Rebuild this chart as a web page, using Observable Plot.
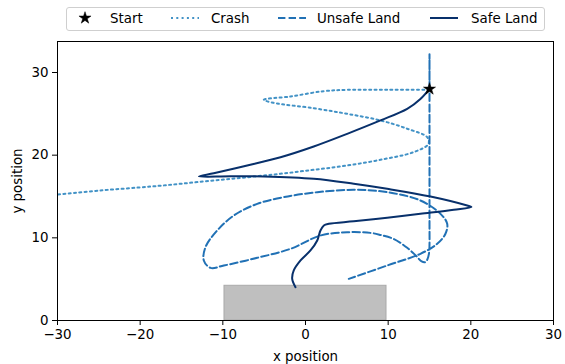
<!DOCTYPE html>
<html>
<head>
<meta charset="utf-8">
<script src="https://cdn.jsdelivr.net/npm/d3@7"></script>
<script src="https://cdn.jsdelivr.net/npm/@observablehq/plot@0.6"></script>
<style>
  body { margin: 0; background: #fff; font-family: "DejaVu Sans", sans-serif; }
  #wrap { width: 565px; }
  #legend { position: relative; height: 34px; }
  #legend .box { position: absolute; left: 66px; top: 7px; width: 477px; height: 22px;
    border: 1px solid #cfcfcf; border-radius: 3px; background: #fff; }
  #legend .item { position: absolute; top: 7px; height: 24px; line-height: 23px; font-size: 13.4px; color: #000; }
  #legend svg { position: absolute; top: 0; }
</style>
</head>
<body>
<div id="wrap">
  <div id="legend"></div>
  <div id="chart"></div>
</div>
<script>
// ---- data ----
const start = [{x: 15, y: 28}];
const padX = [-9.8, 9.8];
const padY = [0, 4.2];

const crashX = [15, 10, 5.04, 2.18, -1.81, -5.04, -3.87, 0.97, 5.04, 9.07, 12.3, 14.72, 14.88, 13.06, 9.07, 5.04, 0.97, -3.02, -7.05, -11.13, -15.12, -18.75, -24.8, -30];
const crashY = [27.9, 27.9, 27.9, 27.74, 27.1, 26.7, 26.33, 25.68, 25.0, 24.2, 23.2, 22.17, 21.37, 20.36, 19.44, 18.75, 18.23, 17.75, 17.33, 16.94, 16.54, 16.2, 15.73, 15.24];

const unsafeX = [15, 15, 15, 15, 15, 15, 14.95, 14.75, 14.45, 14.05, 13.3, 12.3, 10.7, 9.07, 7.86, 5.04, 1.81, -1.81, -5.84, -9.88, -11.49, -12.3, -12.1, -10.68, -8.67, -5.84, -2.62, 1.42, 5.84, 9.88, 13.9, 16.33, 17.14, 16.93, 15.93, 13.9, 9.88, 5.24];
const unsafeY = [28, 32.2, 28, 20, 12, 9.2, 8.2, 7.4, 7.05, 7.15, 7.9, 8.8, 9.85, 10.35, 10.6, 10.68, 10.28, 8.67, 7.58, 6.65, 6.37, 7.26, 8.87, 10.89, 12.7, 14.11, 14.92, 15.52, 15.81, 15.52, 14.52, 12.9, 11.7, 10.49, 9.28, 8.07, 6.65, 5.04];

const safeX = [15, 13.9, 12.3, 9.07, 5.04, 1.0, -3.02, -7.05, -11.1, -12.9, -9.07, -5.04, 1.0, 5.84, 9.88, 15.12, 19.56, 20.08, 17.94, 13.9, 9.88, 5.84, 2.82, 2.22, 1.81, 1.42, 0.6, -0.6, -1.42, -1.61, -1.21];
const safeY = [28.03, 26.8, 25.6, 24.2, 22.58, 21.05, 19.75, 18.75, 17.82, 17.42, 17.45, 17.42, 17.14, 16.54, 15.93, 15.0, 13.91, 13.73, 13.39, 12.9, 12.42, 12.0, 11.7, 11.5, 10.89, 9.68, 8.47, 7.26, 6.05, 5.04, 4.03];

const seriesNames = ["Crash", "Unsafe Land", "Safe Land"];
const seriesColors = ["#4292c6", "#2171b5", "#08306b"];
const seriesDash = ["2,3.3", "7.4,3.2", null];
const xTicks = [-30, -20, -10, 0, 10, 20, 30];
const yTicks = [0, 10, 20, 30];

// ---- build ----
const toPts = (xs, ys) => xs.map((x, i) => ({x, y: ys[i]}));
const tracks = [toPts(crashX, crashY), toPts(unsafeX, unsafeY), toPts(safeX, safeY)];

const lineMarks = tracks.map((pts, i) => Plot.line(pts, {
  x: "x", y: "y", stroke: seriesColors[i], strokeWidth: 2,
  strokeDasharray: seriesDash[i] || undefined, curve: "catmull-rom"
}));

const chart = Plot.plot({
  width: 565, height: 330,
  marginTop: 7, marginBottom: 44, marginLeft: 57, marginRight: 12,
  style: {fontFamily: "DejaVu Sans, sans-serif", fontSize: "13.4px", color: "#000", background: "#fff"},
  x: {domain: [-30, 30]},
  y: {domain: [0, 33.75]},
  marks: [
    Plot.rect([{x1: padX[0], x2: padX[1], y1: padY[0], y2: padY[1]}],
      {x1: "x1", x2: "x2", y1: "y1", y2: "y2", fill: "#bfbfbf", stroke: "#a9a9a9", strokeWidth: 1}),
    ...lineMarks,
    Plot.dot(start, {x: "x", y: "y", symbol: "star", r: 3.8, fill: "black", stroke: "black", strokeWidth: 0.5}),
    Plot.frame({stroke: "black", strokeWidth: 1}),
    Plot.axisX({ticks: xTicks, tickSize: 5, tickPadding: 4, tickFormat: d => d < 0 ? "\u2212" + Math.abs(d) : String(d),
      label: "x position", labelAnchor: "center", labelArrow: "none", labelOffset: 40}),
    Plot.axisY({ticks: yTicks, tickSize: 5, tickPadding: 4,
      label: "y position", labelAnchor: "center", labelArrow: "none", labelOffset: 45})
  ]
});
document.getElementById("chart").appendChild(chart);

// ---- legend ----
const legend = document.getElementById("legend");
const box = document.createElement("div"); box.className = "box"; legend.appendChild(box);
function addItem(left, width, svgInner, textLeft, label) {
  const s = document.createElementNS("http://www.w3.org/2000/svg", "svg");
  s.setAttribute("width", width); s.setAttribute("height", 34);
  s.style.left = left + "px";
  s.innerHTML = svgInner;
  legend.appendChild(s);
  const t = document.createElement("div"); t.className = "item";
  t.style.left = textLeft + "px"; t.textContent = label; legend.appendChild(t);
}
const starPath = d3.symbol(d3.symbolStar, Math.PI * 3.8 * 3.8)();
addItem(75, 20, `<path d="${starPath}" transform="translate(10,18)" fill="black" stroke="black" stroke-width="0.5"/>`, 110, "Start");
const legendLefts = [171, 278, 430];
const textLefts = [211, 317, 471];
seriesNames.forEach((n, i) => {
  addItem(legendLefts[i], 30,
    `<line x1="0" x2="28" y1="18" y2="18" stroke="${seriesColors[i]}" stroke-width="2" ${seriesDash[i] ? `stroke-dasharray="${seriesDash[i]}"` : ""}/>`,
    textLefts[i], n);
});
</script>
</body>
</html>
